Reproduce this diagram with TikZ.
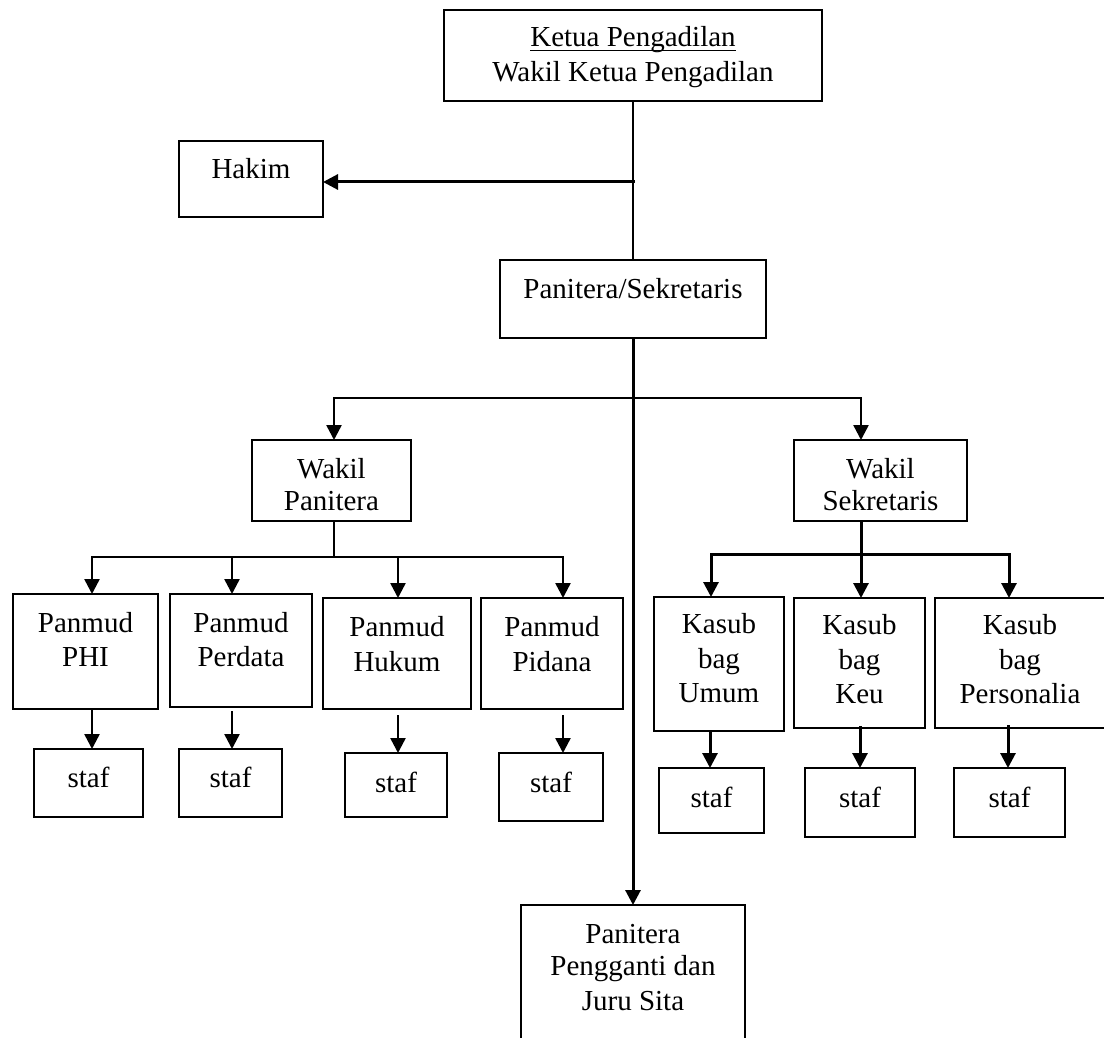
\documentclass[tikz,border=0pt]{standalone}
\usepackage{fontspec}
\setmainfont{Liberation Serif}
\usetikzlibrary{arrows.meta}
\newcommand{\bt}[4]{\parbox[c][#2pt][t]{#1pt}{\centering\rule{0pt}{#3pt}#4}}
\newcommand{\myul}[1]{\setbox0\hbox{#1}\rlap{\rule[-4.5pt]{\wd0}{1.5pt}}\box0}
\begin{document}
\begin{tikzpicture}[x=1pt,y=-1pt,
  bx/.style={draw, line width=2pt, inner sep=0pt, outer sep=0pt, font=\fontsize{29pt}{34pt}\selectfont},
  ln/.style={line width=2pt, line cap=rect},
  tk/.style={line width=3pt, line cap=rect},
  arr/.style={-{Triangle[length=15pt,width=15pt]}}]
\useasboundingbox (0,0) rectangle (1104,1038);
\clip (0,0) rectangle (1104,1038);
% boxes
\node[bx] (ketua) at (633,55.5) {\bt{378}{91}{37}{\myul{Ketua Pengadilan}\\[1pt]Wakil Ketua Pengadilan}};
\node[bx] (hakim) at (251,179) {\bt{144}{76}{38}{Hakim}};
\node[bx] (psek) at (633,299) {\bt{266}{78}{38}{Panitera/Sekretaris}};
\node[bx] (wp) at (331.5,480.5) {\bt{159}{81}{38}{Wakil\\[-2pt]Panitera}};
\node[bx] (ws) at (880.5,480.5) {\bt{173}{81}{38}{Wakil\\[-2pt]Sekretaris}};
\node[bx] (phi) at (85.5,651.5) {\bt{145}{115}{38}{Panmud\\PHI}};
\node[bx] (perdata) at (241,650.5) {\bt{142}{113}{38}{Panmud\\Perdata}};
\node[bx] (hukum) at (397,653.5) {\bt{148}{111}{38}{Panmud\\[1pt]Hukum}};
\node[bx] (pidana) at (552,653.5) {\bt{142}{111}{38}{Panmud\\[1pt]Pidana}};
\node[bx] (s1) at (88.5,783) {\bt{109}{68}{38}{staf}};
\node[bx] (s2) at (230.5,783) {\bt{103}{68}{38}{staf}};
\node[bx] (s3) at (396,785) {\bt{102}{64}{39}{staf}};
\node[bx] (s4) at (551,787) {\bt{104}{68}{39}{staf}};
\node[bx] (kumum) at (719,664) {\bt{130}{134}{36}{Kasub\\[1pt]bag\\Umum}};
\node[bx] (kkeu) at (859.5,663) {\bt{131}{130}{36}{Kasub\\[1pt]bag\\Keu}};
\node[bx] (kpers) at (1020,663) {\bt{170}{130}{36}{Kasub\\[1pt]bag\\Personalia}};
\node[bx] (s5) at (711.5,800.5) {\bt{105}{65}{39}{staf}};
\node[bx] (s6) at (860,802.5) {\bt{110}{69}{39}{staf}};
\node[bx] (s7) at (1009.5,802.5) {\bt{111}{69}{39}{staf}};
\node[bx] (ppg) at (633,982.5) {\bt{224}{155}{38}{Panitera\\[-2pt]Pengganti dan\\[1pt]Juru Sita}};
% coordinates
\coordinate (v1) at (633,182);
\coordinate (hL) at (334,398);
\coordinate (hR) at (861,398);
\coordinate (p0) at (334,557);
\coordinate (pL) at (92,557);
\coordinate (p2) at (232,557);
\coordinate (p3) at (398,557);
\coordinate (pR) at (563,557);
\coordinate (a1) at (92,709);
\coordinate (a2) at (232,712);
\coordinate (a3) at (398,716);
\coordinate (a4) at (563,716);
\coordinate (q0) at (861,554);
\coordinate (qL) at (711,554);
\coordinate (qR) at (1009,554);
\coordinate (b1) at (710,731);
\coordinate (b2) at (860,727);
\coordinate (b3) at (1008,726);
% connectors
\draw[ln] (ketua.south) -- (psek.north);
\draw[tk,arr] (v1) -- (v1 -| hakim.east);
\draw[tk,arr] (psek.south) -- (ppg.north);
\draw[ln] (hL) -- (hR);
\draw[ln,line width=2.5pt,arr] (hL) -- (hL |- wp.north);
\draw[ln,line width=2.5pt,arr] (hR) -- (hR |- ws.north);
\draw[ln] (p0 |- wp.south) -- (p0);
\draw[ln,line width=2.5pt] (pL) -- (pR);
\draw[ln,line width=2.5pt,arr] (pL) -- (pL |- phi.north);
\draw[ln,line width=2.5pt,arr] (p2) -- (p2 |- perdata.north);
\draw[ln,line width=2.5pt,arr] (p3) -- (p3 |- hukum.north);
\draw[ln,line width=2.5pt,arr] (pR) -- (pR |- pidana.north);
\draw[ln,line width=2.5pt,arr] (a1) -- (a1 |- s1.north);
\draw[ln,line width=2.5pt,arr] (a2) -- (a2 |- s2.north);
\draw[ln,line width=2.5pt,arr] (a3) -- (a3 |- s3.north);
\draw[ln,line width=2.5pt,arr] (a4) -- (a4 |- s4.north);
\draw[tk] (q0 |- ws.south) -- (q0);
\draw[tk] (qL) -- (qR);
\draw[tk,arr] (q0) -- (q0 |- kkeu.north);
\draw[tk,arr] (qL) -- (qL |- kumum.north);
\draw[tk,arr] (qR) -- (qR |- kpers.north);
\draw[tk,arr] (b1) -- (b1 |- s5.north);
\draw[tk,arr] (b2) -- (b2 |- s6.north);
\draw[tk,arr] (b3) -- (b3 |- s7.north);
\end{tikzpicture}
\end{document}
